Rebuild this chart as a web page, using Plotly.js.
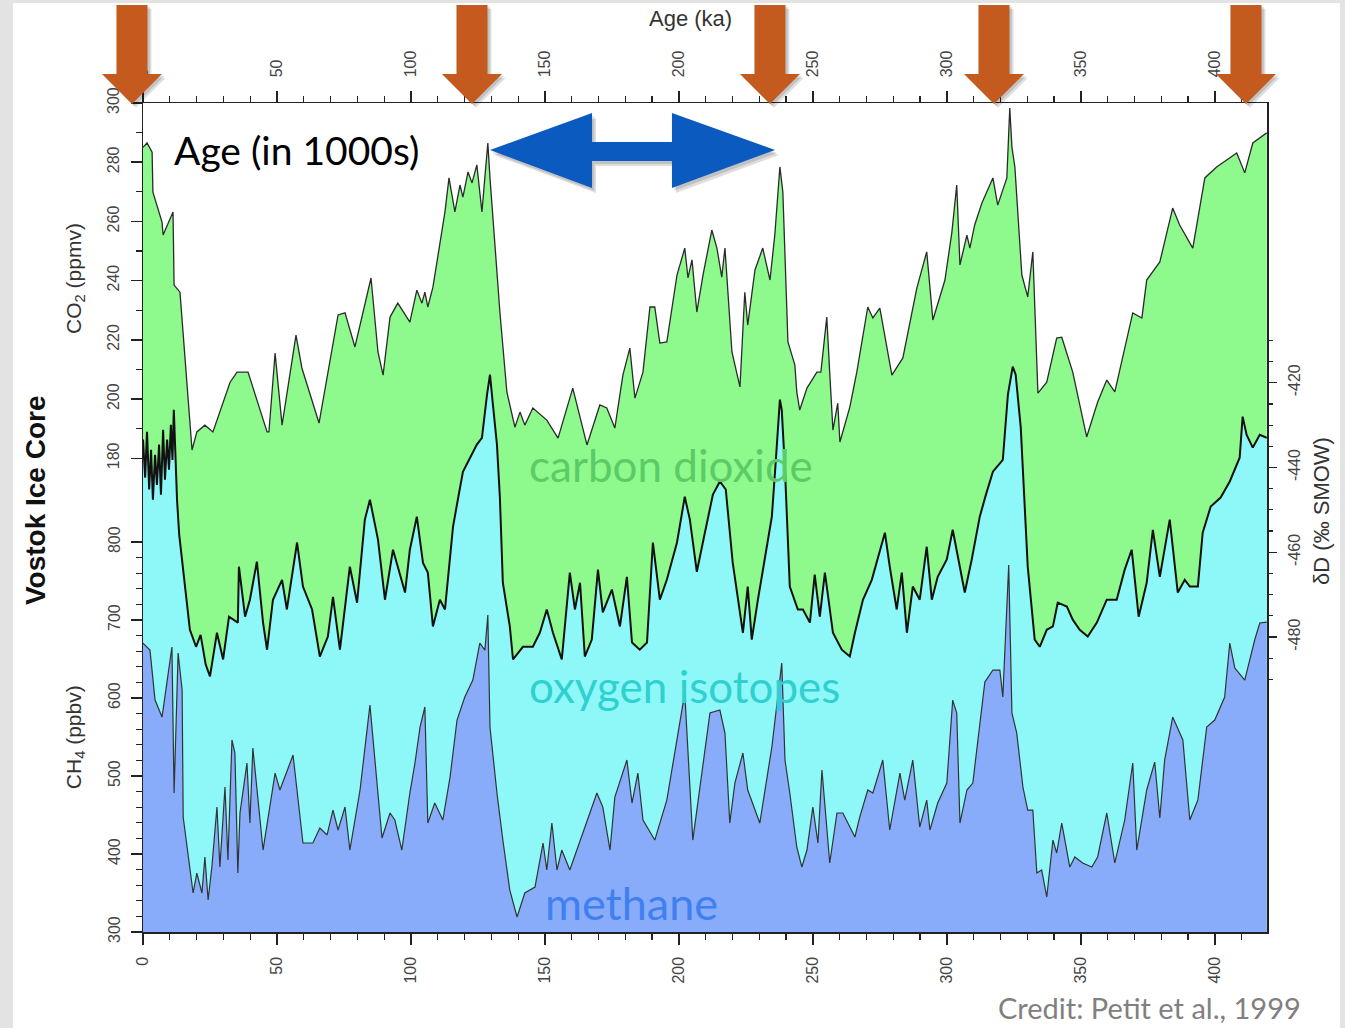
<!DOCTYPE html>
<html><head><meta charset="utf-8">
<script src="https://cdn.plot.ly/plotly-3.0.1.min.js"></script>
<style>html,body{margin:0;padding:0;background:#fff;}#chart{width:1345px;height:1028px;}</style>
</head><body><div id="chart"></div>
<script>
// ---- data ----
const co2Age=[0,1.5,3.4,3.7,7.1,7.5,11.2,11.6,13.8,18.3,20.1,23.1,26.1,32.5,35.1,39.2,46.3,47.0,49.3,51.9,57.1,59.3,65.7,72.8,75.4,79.1,85.1,87.7,89.6,92.2,95.1,99.6,102.2,104.1,105.2,106.3,108.2,112.7,114.2,116.4,118.3,119.4,121.3,122.8,124.6,126.5,127.6,128.7,129.5,133.2,135.8,138.8,140.7,142.5,145.5,150.7,154.9,160.4,165.7,170.5,173.1,176.1,179.1,181.7,183.6,186.6,189.2,191.0,192.9,195.5,199.3,202.2,203.4,204.9,206.7,209.0,212.3,214.2,216.0,217.2,219.8,222.8,224.6,225.7,228.4,231.3,234.0,235.8,237.7,238.8,240.7,243.3,244.0,245.1,247.8,251.5,253.0,255.2,256.3,257.5,259.3,260.1,263.8,266.4,270.5,272.4,275.0,279.5,283.6,288.8,292.5,294.8,299.3,301.9,303.7,304.9,307.5,308.6,310.4,313.1,317.2,319.0,322.4,323.5,324.3,325.4,328.0,330.2,332.1,334.0,337.3,341.0,342.9,347.0,352.2,356.3,359.7,362.7,369.4,372.8,374.6,379.5,384.3,386.9,391.8,396.3,400.7,408.2,411.2,414.2,419.4];
const co2Val=[285,286.5,283.4,269.9,259.8,255.4,263.2,238.5,236.1,182.8,188.9,191.2,188.9,205.7,209.1,209.1,188.9,188.9,215.5,191.2,221.6,210.5,191.9,228.4,229.1,217.6,240.9,215.9,208.1,227.7,232.4,226.0,236.8,232.4,236.1,231.1,237.8,263.2,274.7,263.2,272.3,268.2,276.7,273.0,279.1,263.2,275.0,286.5,274.7,229.4,202.4,190.5,195.6,191.2,197.0,192.9,186.8,203.7,184.5,198.0,197.0,190.2,208.1,217.2,200.3,209.1,231.1,231.1,218.9,219.3,241.9,251.0,240.9,247.0,229.4,241.9,257.1,251.0,241.2,251.0,215.9,204.1,236.1,225.0,243.6,251.0,240.2,255.4,278.4,269.9,219.3,211.5,202.4,196.3,203.7,209.1,209.1,227.7,208.8,189.5,198.6,185.5,197.3,209.1,231.1,227.4,230.7,208.1,213.9,237.5,249.7,226.7,240.2,256.4,272.3,245.3,255.4,251.0,258.8,266.2,274.7,265.5,274.7,298.3,285.1,278.4,241.9,234.5,249.7,202.0,205.7,220.6,220.9,209.1,187.2,199.0,206.4,202.4,229.1,227.4,240.2,246.3,264.5,258.8,251.0,274.7,278.4,283.1,276.4,286.5,289.9];

const dDAge=[0,0.8,1.5,2.3,3.0,3.7,4.5,5.2,6.0,6.7,7.5,8.2,9.0,9.7,10.4,11.0,11.5,12.0,12.7,13.5,14.9,17.5,19.8,21.5,23.4,25.0,27.6,29.9,32.1,35.4,35.8,38.1,39.9,42.5,44.8,46.3,48.5,51.9,53.7,57.5,59.7,63.1,66.0,69.0,70.9,73.5,77.2,79.9,82.8,84.7,87.7,90.3,93.3,97.8,99.6,102.2,104.5,106.3,108.2,110.8,112.7,115.7,117.5,119.4,124.6,126.5,128.4,129.5,130.6,132.1,133.2,134.3,136.9,138.1,141.8,145.5,148.1,150.7,153.0,156.3,159.3,161.2,163.1,164.9,167.5,169.8,171.6,175.0,178.0,180.6,182.5,185.4,188.1,190.3,192.9,195.5,199.3,202.2,204.1,206.7,209.7,212.7,215.3,217.5,220.1,223.9,225.7,227.2,229.5,232.1,234.7,236.2,237.7,238.4,239.6,241.4,244.4,246.3,248.9,250.7,252.6,254.5,257.5,260.8,263.8,265.7,268.7,272.0,275.0,276.9,278.7,281.3,283.2,285.1,287.3,289.9,292.5,294.4,296.6,300.0,302.2,303.7,306.7,309.3,312.3,314.6,317.2,320.9,322.8,324.6,325.7,327.6,329.5,330.2,332.8,334.7,337.3,339.6,341.4,344.8,347.0,349.6,352.6,356.0,359.7,363.4,366.4,369.0,371.6,374.6,376.9,379.5,383.2,386.2,388.8,390.7,393.7,395.5,398.5,402.2,405.6,409.3,410.4,411.9,414.2,416.8,419.4];
const dDVal=[-433.4,-442.4,-431.6,-445.2,-435.8,-447.6,-437.0,-444.1,-434.6,-446.4,-431.1,-442.9,-433.4,-440.5,-429.9,-438.2,-426.4,-437.0,-447.6,-455.8,-463.4,-478.3,-482.3,-479.5,-486.5,-489.3,-479.0,-485.3,-475.2,-476.6,-463.4,-475.2,-471.2,-462.2,-476.6,-483.0,-471.2,-466.5,-473.5,-457.7,-468.1,-473.5,-484.6,-479.9,-470.5,-483.0,-463.4,-471.9,-452.3,-447.6,-457.0,-471.2,-459.4,-469.5,-459.4,-451.6,-462.5,-464.8,-477.5,-471.2,-473.5,-454.0,-447.6,-441.0,-434.6,-433.0,-422.8,-418.1,-425.2,-434.6,-447.1,-467.2,-477.5,-485.3,-482.3,-482.3,-479.0,-473.5,-479.0,-485.3,-464.8,-473.5,-467.2,-484.6,-480.6,-464.1,-474.2,-468.8,-477.5,-465.8,-481.3,-483.0,-481.3,-457.7,-471.2,-466.5,-457.7,-446.9,-452.3,-464.6,-455.4,-446.4,-443.3,-445.2,-462.5,-479.0,-468.1,-480.6,-471.2,-461.0,-451.6,-438.2,-424.0,-426.4,-440.5,-468.1,-473.5,-473.5,-476.6,-465.3,-475.2,-464.8,-479.0,-483.0,-484.6,-479.0,-471.2,-466.5,-459.4,-455.4,-463.4,-473.5,-464.8,-479.0,-468.1,-471.2,-458.7,-471.2,-465.8,-461.7,-454.7,-459.4,-469.5,-461.7,-451.6,-446.4,-441.0,-438.2,-422.8,-416.2,-418.1,-430.6,-453.5,-463.4,-480.6,-482.3,-478.3,-477.5,-471.9,-472.8,-475.9,-478.3,-479.9,-476.6,-471.2,-471.2,-464.1,-459.4,-475.2,-467.2,-454.7,-465.8,-452.3,-469.5,-466.5,-468.1,-468.1,-455.4,-449.2,-447.1,-443.3,-437.7,-428.0,-432.3,-435.3,-432.3,-433.0];

const ch4Age=[0,2.6,4.5,7.1,10.8,11.6,13.1,14.6,15.0,18.7,20.1,22.0,23.1,24.3,25.7,27.6,28.7,30.6,31.7,33.2,34.3,35.4,36.2,38.8,39.9,41.0,44.8,49.3,51.1,56.0,59.7,63.4,66.0,68.7,70.9,72.8,75.4,77.2,81.0,84.7,89.2,92.2,94.0,96.6,99.6,101.5,103.4,105.2,106.3,108.9,111.9,114.6,117.2,120.1,123.1,125.7,127.6,128.7,129.5,132.1,134.3,136.2,136.9,139.6,142.5,146.3,149.3,150.7,152.6,154.5,156.3,159.3,164.2,169.4,171.6,174.3,176.1,180.6,182.5,184.7,186.6,191.0,195.5,202.2,205.2,207.8,211.6,215.3,217.2,219.0,220.9,223.9,225.7,230.2,234.7,238.4,239.6,241.4,244.0,245.9,247.8,250.0,251.9,253.4,256.3,259.0,261.2,265.7,267.5,270.5,272.4,276.1,278.7,282.5,284.3,287.3,289.9,292.5,293.7,296.6,300.0,302.2,303.7,304.9,307.5,309.7,312.3,314.2,317.2,319.8,320.9,323.1,324.3,326.1,328.4,330.2,332.1,333.6,335.4,337.3,339.6,341.0,342.9,345.9,347.8,350.7,354.1,356.3,359.7,362.7,366.4,369.4,370.9,374.6,377.6,379.5,381.3,384.3,388.1,390.7,393.7,397.0,400.0,403.7,405.6,407.5,411.2,414.9,416.8,419.4];
const ch4Val=[670.5,661.5,597.4,575.6,665.4,478.2,657.7,610.3,447.4,350.0,375.6,350.0,396.2,341.0,383.3,460.3,383.3,485.9,392.3,546.2,529.5,375.6,452.6,516.7,439.7,535.9,405.1,503.8,482.1,526.9,414.1,414.1,433.3,424.4,456.4,430.8,460.3,405.1,482.1,591.0,420.5,452.6,443.6,405.1,478.2,516.7,562.8,588.5,439.7,465.4,443.6,498.7,571.8,601.3,623.1,670.5,661.5,706.4,562.8,478.2,417.9,370.5,353.8,319.2,350.0,357.7,414.1,379.5,439.7,379.5,405.1,379.5,426.9,478.2,460.3,405.1,473.1,520.5,465.4,503.8,443.6,417.9,469.2,606.4,417.9,485.9,580.8,584.6,555.1,439.7,491.0,529.5,482.1,439.7,537.2,644.9,520.5,478.2,409.0,383.3,405.1,460.3,414.1,507.7,388.5,452.6,452.6,421.8,447.4,482.1,478.2,520.5,430.8,503.8,469.2,520.5,434.6,469.2,430.8,465.4,491.0,597.4,580.8,439.7,482.1,491.0,568.0,620.5,635.9,635.9,601.3,770.5,580.8,555.1,485.9,456.4,456.4,375.6,379.5,344.9,417.9,401.3,439.7,383.3,396.2,388.5,383.3,396.2,452.6,388.5,443.6,516.7,405.1,482.1,517.9,446.2,520.5,575.6,546.2,443.6,469.2,562.8,571.8,601.3,670.5,638.5,623.1,674.4,696.2,697.4];

const ageTicks=[0,50,100,150,200,250,300,350,400];
const co2Ticks=[180,200,220,240,260,280,300];
const ch4Ticks=[300,400,500,600,700,800];
const dDTicks=[-480,-460,-440,-420];
const dDTickText=['-480','-460','-440','-420'];

// ---- helpers ----
function steps(a,b,s,skip){const r=[];for(let v=a;v<=b+1e-9;v+=s){const t=+v.toFixed(3);if(!skip||skip.indexOf(t)<0)r.push(t);}return r;}

const tickFont={family:'Liberation Sans, Arial, sans-serif',size:16,color:'#444'};
const INK='#222';

const traces=[
  {x:co2Age,y:co2Val,xaxis:'x',yaxis:'y',mode:'lines',fill:'tozeroy',fillcolor:'#8efa8e',
   line:{color:'#2a2a2a',width:1.3},hoverinfo:'skip',showlegend:false},
  {x:dDAge,y:dDAge.map(()=>-600),xaxis:'x',yaxis:'y2',mode:'lines',line:{width:0,color:'rgba(0,0,0,0)'},hoverinfo:'skip',showlegend:false},
  {x:dDAge,y:dDVal,xaxis:'x',yaxis:'y2',mode:'lines',fill:'tonexty',fillcolor:'#8ef8f8',
   line:{color:'#111',width:2},hoverinfo:'skip',showlegend:false},
  {x:ch4Age,y:ch4Val,xaxis:'x',yaxis:'y3',mode:'lines',fill:'tozeroy',fillcolor:'#88acfa',
   line:{color:'#333',width:1.2},hoverinfo:'skip',showlegend:false},
  {x:co2Age,y:co2Val,xaxis:'x2',yaxis:'y',mode:'lines',line:{width:0},opacity:0,hoverinfo:'skip',showlegend:false}
];

const xCommon={range:[0,419.5],tickmode:'array',tickvals:ageTicks,ticks:'outside',ticklen:11,tickwidth:1.5,tickcolor:INK,
  tickangle:-90,tickfont:tickFont,showline:true,linecolor:INK,linewidth:1.5,showgrid:false,zeroline:false,
  minor:{tickmode:'array',tickvals:steps(0,410,10,ageTicks),ticks:'outside',ticklen:6,tickwidth:1.2,tickcolor:INK,showgrid:false},
  fixedrange:true};

// paper-coordinate positions of decorations
const arrowX=[-0.0098,0.2927,0.5578,0.7571,0.9813];
function downArrow(cx,dx,dy){
  const sw=0.0138,hw=0.0267,top=1.1182+dy,base=1.035+dy,tip=0.9988+dy;cx+=dx;
  return `M${cx-sw},${top} L${cx+sw},${top} L${cx+sw},${base} L${cx+hw},${base} L${cx},${tip} L${cx-hw},${base} L${cx-sw},${base} Z`;
}
function dblArrow(dx,dy){
  const l=0.3087+dx,lb=0.3995+dx,rb=0.4706+dx,r=0.5623+dx,cy=0.9433+dy,ht=0.9879+dy,hb=0.8975+dy,st=0.9530+dy,sb=0.9300+dy;
  return `M${l},${cy} L${lb},${ht} L${lb},${st} L${rb},${st} L${rb},${ht} L${r},${cy} L${rb},${hb} L${rb},${sb} L${lb},${sb} L${lb},${hb} Z`;
}
const shapes=[
  {type:'rect',xref:'paper',yref:'paper',x0:-0.1157,x1:1.0649,y0:-0.1158,y1:1.1206,fillcolor:'#ffffff',line:{width:0},layer:'below'}
];
arrowX.forEach(cx=>{
  shapes.push({type:'path',xref:'paper',yref:'paper',path:downArrow(cx,0.0035,-0.0045),fillcolor:'rgba(0,0,0,0.13)',line:{width:0},layer:'above'});
  shapes.push({type:'path',xref:'paper',yref:'paper',path:downArrow(cx,0.002,-0.0025),fillcolor:'rgba(0,0,0,0.13)',line:{width:0},layer:'above'});
  shapes.push({type:'path',xref:'paper',yref:'paper',path:downArrow(cx,0,0),fillcolor:'#c55a1e',line:{width:0},layer:'above'});
});
shapes.push({type:'path',xref:'paper',yref:'paper',path:dblArrow(0.0035,-0.006),fillcolor:'rgba(0,0,0,0.13)',line:{width:0},layer:'above'});
shapes.push({type:'path',xref:'paper',yref:'paper',path:dblArrow(0.002,-0.0035),fillcolor:'rgba(0,0,0,0.13)',line:{width:0},layer:'above'});
shapes.push({type:'path',xref:'paper',yref:'paper',path:dblArrow(0,0),fillcolor:'#0a5ac0',line:{width:0},layer:'above'});

const ann=(text,x,y,o)=>Object.assign({text,x,y,xref:'paper',yref:'paper',showarrow:false,xanchor:'center',yanchor:'middle'},o);
const annotations=[
  ann('CO<sub>2</sub> (ppmv)',-0.0605,0.789,{textangle:-90,font:{family:'Liberation Sans, Arial',size:21,color:'#333'}}),
  ann('CH<sub>4</sub> (ppbv)',-0.0605,0.235,{textangle:-90,font:{family:'Liberation Sans, Arial',size:21,color:'#333'}}),
  ann('<b>Vostok Ice Core</b>',-0.0961,0.521,{textangle:-90,font:{family:'Liberation Sans, Arial',size:28,color:'#111'}}),
  ann('δD (‰ SMOW)',1.049,0.508,{textangle:-90,font:{family:'Liberation Sans, Arial',size:22,color:'#333'}}),
  ann('Age (ka)',0.4867,1.1025,{font:{family:'Liberation Sans, Arial',size:22,color:'#333'}}),
  ann('Age (in 1000s)',0.0258,0.943,{xanchor:'left',font:{family:'Lato, Open Sans, sans-serif',size:39,color:'#000'}}),
  ann('carbon dioxide',0.3416,0.5633,{xanchor:'left',font:{family:'Lato, Open Sans, sans-serif',size:44,color:'#5ccb66'}}),
  ann('oxygen isotopes',0.3416,0.2967,{xanchor:'left',font:{family:'Lato, Open Sans, sans-serif',size:44,color:'#30d0d0'}}),
  ann('methane',0.3559,0.035,{xanchor:'left',font:{family:'Lato, Open Sans, sans-serif',size:45,color:'#4080ee'}}),
  ann('Credit: Petit et al., 1999',1.032,-0.0905,{xanchor:'right',font:{family:'Lato, Open Sans, sans-serif',size:29,color:'#808080'}})
];

const layout={
  width:1345,height:1028,margin:{l:143,r:78,t:103,b:96,pad:0},
  paper_bgcolor:'#e3e3e3',plot_bgcolor:'#ffffff',showlegend:false,
  xaxis:Object.assign({},xCommon,{anchor:'y',side:'bottom',ticklabelstandoff:6}),
  xaxis2:Object.assign({},xCommon,{overlaying:'x',anchor:'y',side:'top',ticklabelstandoff:10}),
  yaxis:{range:[20,300],tickmode:'array',tickvals:co2Ticks,ticks:'outside',ticklen:11,tickwidth:1.5,tickcolor:INK,
    tickangle:-90,tickfont:tickFont,ticklabelstandoff:5,showline:true,mirror:true,linecolor:INK,linewidth:1.5,
    showgrid:false,zeroline:false,fixedrange:true,
    minor:{tickmode:'array',tickvals:steps(190,290,20),ticks:'outside',ticklen:6,tickwidth:1.2,tickcolor:INK,showgrid:false}},
  yaxis2:{range:[-549.6,-354],overlaying:'y',side:'right',anchor:'x',tickmode:'array',tickvals:dDTicks,ticktext:dDTickText,ticks:'outside',
    ticklen:9,tickwidth:1.5,tickcolor:INK,tickangle:-90,tickfont:tickFont,ticklabelstandoff:4,showline:false,
    showgrid:false,zeroline:false,fixedrange:true,
    minor:{tickmode:'array',tickvals:steps(-490,-410,5,dDTicks),ticks:'outside',ticklen:5,tickwidth:1.2,tickcolor:INK,showgrid:false}},
  yaxis3:{range:[300,1363],overlaying:'y',side:'left',anchor:'x',tickmode:'array',tickvals:ch4Ticks,ticks:'outside',
    ticklen:11,tickwidth:1.5,tickcolor:INK,tickangle:-90,tickfont:tickFont,ticklabelstandoff:5,showline:false,
    showgrid:false,zeroline:false,fixedrange:true,
    minor:{tickmode:'array',tickvals:steps(320,780,20,ch4Ticks),ticks:'outside',ticklen:6,tickwidth:1.2,tickcolor:INK,showgrid:false}},
  shapes,annotations
};
Plotly.newPlot('chart',traces,layout,{displayModeBar:false,staticPlot:true});
</script>
</body></html>
